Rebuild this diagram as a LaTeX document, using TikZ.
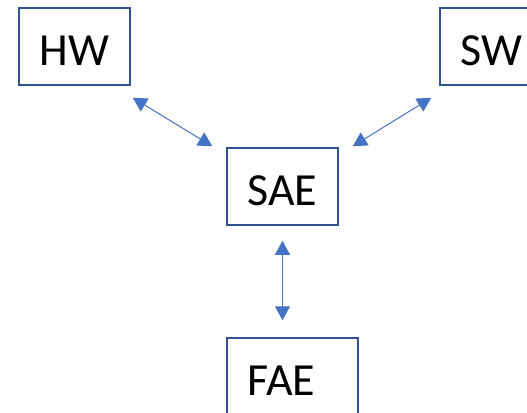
\documentclass[tikz,border=0pt]{standalone}
\usepackage{fontspec}
\setmainfont{Carlito}
\usetikzlibrary{arrows.meta}
\definecolor{boxline}{HTML}{2F528F}
\definecolor{arrowblue}{HTML}{4472C4}
\begin{document}
\begin{tikzpicture}[x=1pt,y=-1pt,
  box/.style={draw=boxline, line width=1.5pt, minimum height=77pt,
    inner xsep=20.5pt, inner ysep=0pt, align=left,
    font=\fontsize{46}{46}\selectfont, text height=38pt, text depth=0pt},
  link/.style={draw=arrowblue, line width=1pt,
    {Triangle[length=14pt,width=15pt]}-{Triangle[length=14pt,width=15pt]}}]
\useasboundingbox (0,0) rectangle (527,412);

% boxes
\node[box, text width=70pt] (hw)  at (74.5,46.5)  {HW};
\node[box, text width=70pt] (sw)  at (495.5,46.5) {SW};
\node[box, text width=70pt] (sae) at (282.5,186.5) {SAE};
\node[box, text width=90pt] (fae) at (292.5,376.5) {FAE};

% two-way links
\draw[link] ([shift={(2,12)}]hw.south east) -- ([shift={(-14,-1)}]sae.north west);
\draw[link] ([shift={(-8,12)}]sw.south west) -- ([shift={(14,-1)}]sae.north east);
\coordinate (faetop) at (sae.south |- fae.north);
\draw[link] ([shift={(0,15)}]sae.south) -- ([shift={(0,-17)}]faetop);
\end{tikzpicture}
\end{document}
